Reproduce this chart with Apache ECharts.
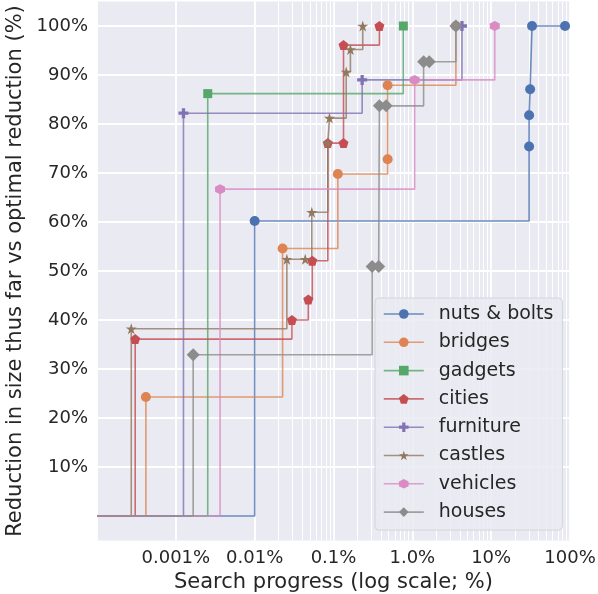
<!DOCTYPE html>
<html>
<head>
<meta charset="utf-8">
<script src="https://cdn.jsdelivr.net/npm/echarts@6/dist/echarts.min.js"></script>
<style>
html,body{margin:0;padding:0;background:#fff;}
#chart{width:598px;height:594px;}
</style>
</head>
<body>
<div id="chart"></div>
<script>
// ---- data ----
const seriesNames = ['nuts & bolts','bridges','gadgets','cities','furniture','castles','vehicles','houses'];

const nutsX = [1e-4, 0.01, 30.3, 30.3, 31.2, 33.0, 86.5];
const nutsY = [0, 60.2, 75.4, 81.8, 87.1, 100, 100];

const bridgesX = [1e-4, 4.17e-4, 0.0226, 0.1135, 0.486, 0.486, 3.57];
const bridgesY = [0, 24.3, 54.6, 69.8, 72.8, 87.9, 100];

const gadgetsX = [1e-4, 2.54e-3, 0.769];
const gadgetsY = [0, 86.2, 100];

const citiesX = [1e-4, 3.05e-4, 0.0297, 0.0479, 0.0538, 0.0847, 0.134, 0.134, 0.382];
const citiesY = [0, 36.1, 40.0, 44.2, 52.1, 76.1, 76.1, 96.1, 100];

const furnitureX = [1e-4, 1.25e-3, 0.231, 4.26];
const furnitureY = [0, 82.2, 89.0, 100];

const castlesX = [1e-4, 2.72e-4, 0.0256, 0.0438, 0.053, 0.0847, 0.089, 0.145, 0.164, 0.235];
const castlesY = [0, 38.2, 52.4, 52.4, 62.0, 76.1, 81.2, 90.6, 95.2, 100];

const vehiclesX = [1e-4, 3.64e-3, 1.07, 11.1];
const vehiclesY = [0, 66.7, 89.0, 100];

const housesX = [1e-4, 1.66e-3, 0.309, 0.374, 0.382, 0.465, 1.39, 1.64, 3.57];
const housesY = [0, 32.9, 50.9, 50.9, 83.7, 83.7, 92.7, 92.7, 100];

const xTickValues = [0.001, 0.01, 0.1, 1, 10, 100];
const xTickLabels = ['0.001%', '0.01%', '0.1%', '1.0%', '10%', '100%'];
const yTickValues = [10, 20, 30, 40, 50, 60, 70, 80, 90, 100];
const yTickLabels = ['10%','20%','30%','40%','50%','60%','70%','80%','90%','100%'];

// ---- styling ----
const colors = ['#4c72b0','#dd8452','#55a868','#c44e52','#8172b3','#937860','#da8bc3','#8c8c8c'];
const P_PENT = 'path://M0,-1L0.951,-0.309L0.588,0.809L-0.588,0.809L-0.951,-0.309Z';
const P_PLUS = 'path://M-0.33,-1L0.33,-1L0.33,-0.33L1,-0.33L1,0.33L0.33,0.33L0.33,1L-0.33,1L-0.33,0.33L-1,0.33L-1,-0.33L-0.33,-0.33Z';
const P_STAR = 'path://M0,-1L0.225,-0.309L0.951,-0.309L0.363,0.118L0.588,0.809L0,0.382L-0.588,0.809L-0.363,0.118L-0.951,-0.309L-0.225,-0.309Z';
const P_HEX = 'path://M0,-1L0.866,-0.5L0.866,0.5L0,1L-0.866,0.5L-0.866,-0.5Z';
const symbols = ['circle','circle','rect',P_PENT,P_PLUS,P_STAR,P_HEX,'diamond'];
const symSizes = [10,10,9,10,10,11,10,[13,13]];

const allX = [nutsX,bridgesX,gadgetsX,citiesX,furnitureX,castlesX,vehiclesX,housesX];
const allY = [nutsY,bridgesY,gadgetsY,citiesY,furnitureY,castlesY,vehiclesY,housesY];

const font = 'DejaVu Sans';
const textColor = '#262626';

// minor log grid values
const minorVals = [];
for (let d = -4; d <= 1; d++) for (let k = 2; k <= 9; k++) minorVals.push(k * Math.pow(10, d));

// y split line colors (only at labelled ticks)
const yMin = -5, yMax = 105, yStep = 5;
const ySplitColors = [];
for (let v = yMin; v <= yMax + 1e-9; v += yStep) {
  ySplitColors.push(yTickValues.indexOf(Math.round(v)) >= 0 ? '#ffffff' : 'rgba(0,0,0,0)');
}

const series = seriesNames.map((name, si) => ({
  name: name,
  type: 'line',
  step: 'end',
  symbol: symbols[si],
  symbolSize: symSizes[si],
  showAllSymbol: true,
  clip: true,
  z: 3,
  itemStyle: { color: colors[si], opacity: 1, borderWidth: 0 },
  lineStyle: { color: colors[si], width: 1.6, opacity: 0.8, type: 'solid' },
  emphasis: { disabled: true },
  data: allX[si].map((x, i) => i === 0 ? { value: [x, allY[si][i]], symbol: 'none' } : { value: [x, allY[si][i]] })
}));

series.unshift({
  name: '_minor',
  type: 'line',
  data: [[1e-4, yMin], [100, yMin]],
  symbol: 'none',
  lineStyle: { opacity: 0 },
  silent: true,
  z: 1,
  markLine: {
    silent: true,
    z: 1,
    symbol: ['none', 'none'],
    label: { show: false },
    animation: false,
    lineStyle: { color: '#ffffff', width: 1, type: 'solid', opacity: 1 },
    emphasis: { disabled: true },
    data: minorVals.map(v => ({ xAxis: v }))
  }
});

const chart = echarts.init(document.getElementById('chart'), null, { renderer: 'canvas' });
chart.setOption({
  animation: false,
  color: colors,
  grid: {
    left: 97, right: 28, top: 1.5, height: 539,
    containLabel: false,
    outerBoundsMode: 'none',
    show: true, backgroundColor: '#eaeaf2', borderWidth: 0
  },
  xAxis: {
    type: 'log',
    logBase: 10,
    min: 1e-4,
    max: 100,
    name: 'Search progress (log scale; %)',
    nameLocation: 'middle',
    nameGap: 30,
    nameTextStyle: { fontFamily: font, fontSize: 21, color: textColor },
    axisLine: { show: false },
    axisTick: { show: false },
    splitLine: { show: true, lineStyle: { color: '#ffffff', width: 1.8 } },
    axisLabel: {
      fontFamily: font, fontSize: 18, color: textColor, margin: 9,
      showMinLabel: true, showMaxLabel: true,
      formatter: function (v) {
        for (let i = 0; i < xTickValues.length; i++) {
          if (Math.abs(Math.log10(v) - Math.log10(xTickValues[i])) < 1e-6) return xTickLabels[i];
        }
        return '';
      }
    }
  },
  yAxis: {
    type: 'value',
    min: yMin, max: yMax, interval: yStep,
    name: 'Reduction in size thus far vs optimal reduction (%)',
    nameLocation: 'middle',
    nameGap: 60,
    nameTextStyle: { fontFamily: font, fontSize: 21, color: textColor },
    axisLine: { show: false },
    axisTick: { show: false },
    splitLine: { show: true, lineStyle: { color: ySplitColors, width: 1.8 } },
    axisLabel: {
      fontFamily: font, fontSize: 18, color: textColor, margin: 9,
      formatter: function (v) {
        const i = yTickValues.indexOf(Math.round(v));
        return (i >= 0 && Math.abs(v - Math.round(v)) < 1e-6) ? yTickLabels[i] : '';
      }
    }
  },
  legend: {
    data: seriesNames,
    orient: 'vertical',
    left: 375, top: 298,
    z: 10,
    padding: [6, 9, 8, 8],
    itemWidth: 40, itemHeight: 12, itemGap: 8.3,
    lineStyle: { type: 'solid', width: 1.6 },
    backgroundColor: 'rgba(234,234,242,0.85)',
    borderColor: '#d4d4dc', borderWidth: 1, borderRadius: 4,
    textStyle: { fontFamily: font, fontSize: 19, color: textColor, lineHeight: 20, padding: [0, 0, 0, 10] },
    selectedMode: false
  },
  series: series
});
</script>
</body>
</html>
